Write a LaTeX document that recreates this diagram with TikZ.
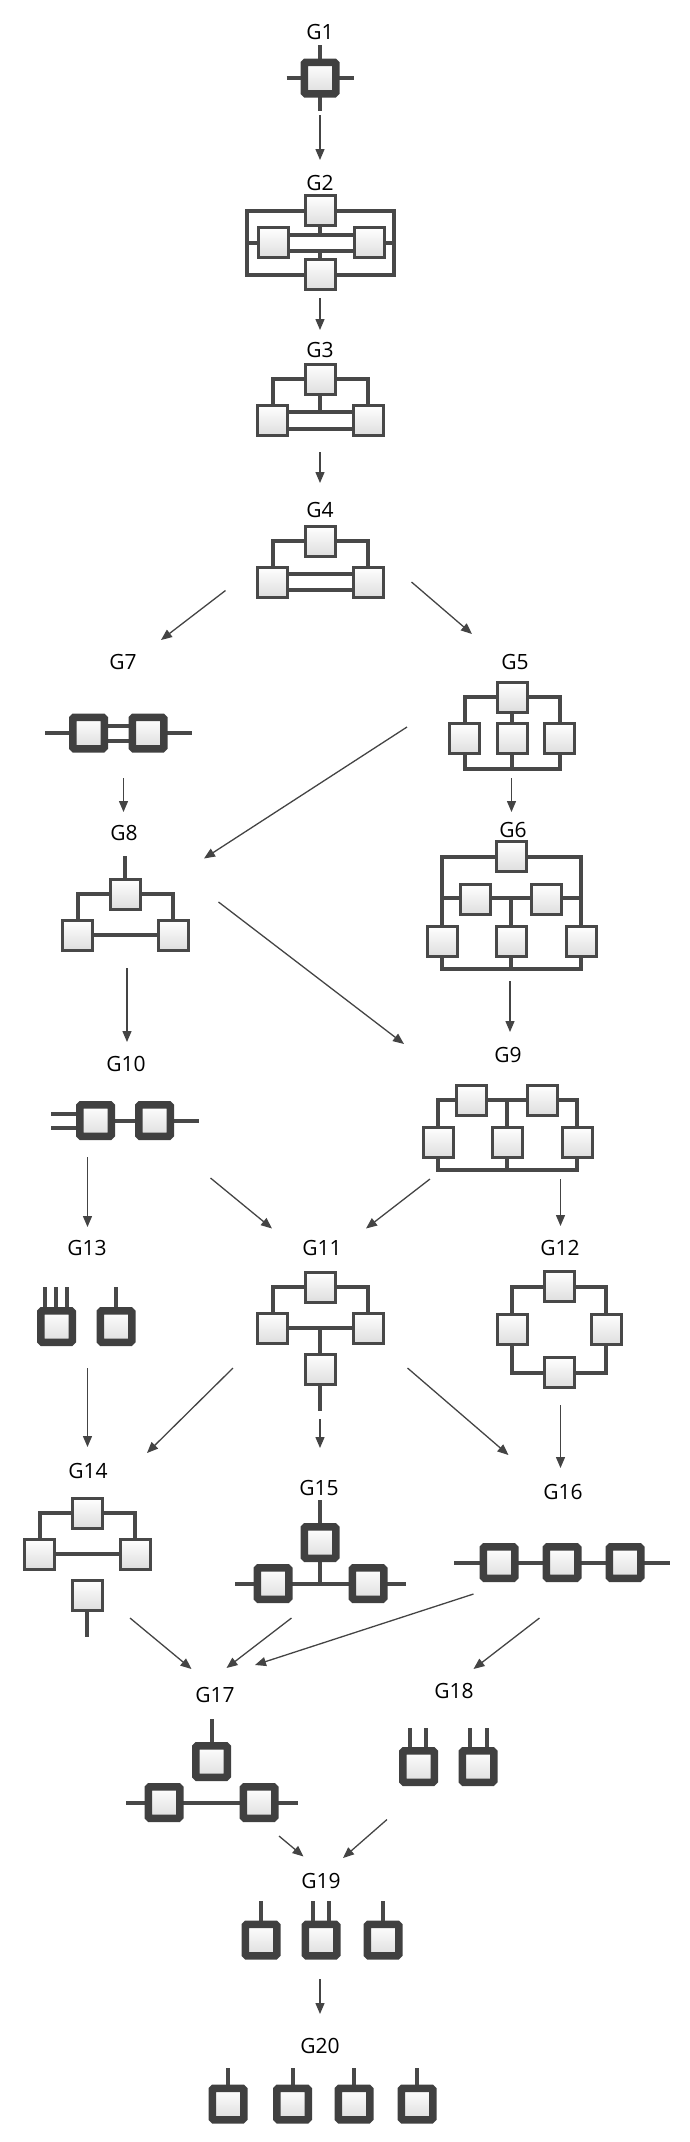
\documentclass[tikz,border=0pt]{standalone}
\usepackage{fontspec}
\setmainfont{Open Sans}
\usetikzlibrary{arrows.meta,positioning,calc}
\definecolor{Wire}{RGB}{72,72,72}
\definecolor{Heavy}{RGB}{64,64,64}
\definecolor{Fill}{RGB}{222,222,222}
\definecolor{Arrow}{RGB}{68,68,68}
\pgfdeclarelayer{wires}
\pgfsetlayers{wires,main}
\tikzset{graph layout/.style={%
    y=-1pt,%
    x=1pt,%
    every node/.style={%
        inner sep=0pt, font=\fontsize{21}{25}\selectfont
    },%
    box/.style={%
        draw=Wire, line width=3pt, minimum size=30pt, top color=white, bottom color=Fill
    },%
    heavy/.style={%
        draw=Heavy, line width=7.5pt, rounded corners=1.5pt, minimum size=31.5pt, top color=white, bottom color=Fill
    },%
    wire/.style={%
        draw=Wire, line width=4pt
    },%
    link/.style={%
        draw=Arrow, line width=1.3pt, -{Triangle[width=9pt,length=11pt]}
    }%
}}

\begin{document}
\begin{tikzpicture}[graph layout]
    \useasboundingbox (0,0) rectangle (689,2142);

    % G1
    \node (g1) at (320,32) {G1};
    \node[heavy] (g1a) at (320,78) {};
    \begin{pgfonlayer}{wires}
        \draw[wire] (286.5,78) -- (353.5,78) (320,45) -- (320,111);
    \end{pgfonlayer}

    % G2
    \node (g2) at (320,183) {G2};
    \node[box] (g2t) at (320,210.5) {};
    \node[box] (g2l) at (273,242.5) {};
    \node[box] (g2r) at (369,242.5) {};
    \node[box] (g2b) at (320,274.5) {};
    \begin{pgfonlayer}{wires}
        \draw[wire] (247,210.5) rectangle (394,274.5);
        \draw[wire] (247,242.5) -- (g2l.center) (g2r.center) -- (394,242.5);
        \draw[wire] (273,234.5) -- (369,234.5) (273,250.5) -- (369,250.5);
        \draw[wire] (g2t.center) -- (320,234.5) (g2b.center) -- (320,250.5);
    \end{pgfonlayer}

    % G3
    \node (g3) at (320,350) {G3};
    \node[box] (g3t) at (320,379) {};
    \node[box] (g3l) at (272.5,420.5) {};
    \node[box] (g3r) at (368,420.5) {};
    \begin{pgfonlayer}{wires}
        \draw[wire] (g3t.center) -| (g3l.center) (g3t.center) -| (g3r.center);
        \draw[wire] (g3t.center) -- (320,412);
        \draw[wire] (272.5,412) -- (368,412) (272.5,429) -- (368,429);
    \end{pgfonlayer}

    % G4
    \node (g4) at (320,510) {G4};
    \node[box] (g4t) at (320,541) {};
    \node[box] (g4l) at (272.5,582) {};
    \node[box] (g4r) at (368,582) {};
    \begin{pgfonlayer}{wires}
        \draw[wire] (g4t.center) -| (g4l.center) (g4t.center) -| (g4r.center);
        \draw[wire] (272.5,573.5) -- (368,573.5) (272.5,589.5) -- (368,589.5);
    \end{pgfonlayer}

    % G7
    \node (g7) at (123,662) {G7};
    \node[heavy] (g7a) at (88.5,733) {};
    \node[heavy] (g7b) at (148,733) {};
    \begin{pgfonlayer}{wires}
        \draw[wire] (45,733) -- (g7a.center) (g7b.center) -- (192,733);
        \draw[wire] (88.5,725.5) -- (148,725.5) (88.5,740.5) -- (148,740.5);
    \end{pgfonlayer}

    % G5
    \node (g5) at (515,662) {G5};
    \node[box] (g5t) at (512,697) {};
    \node[box] (g5a) at (464.5,738.5) {};
    \node[box] (g5b) at (512,738.5) {};
    \node[box] (g5c) at (559.5,738.5) {};
    \begin{pgfonlayer}{wires}
        \draw[wire] (g5t.center) -| (g5a.center) (g5t.center) -| (g5c.center) (g5t.center) -- (g5b.center);
        \draw[wire] (g5a.center) -- (464.5,768.5) -- (559.5,768.5) -- (g5c.center) (g5b.center) -- (512,768.5);
    \end{pgfonlayer}

    % G8
    \node (g8) at (124,833) {G8};
    \node[box] (g8t) at (125,894) {};
    \node[box] (g8l) at (77.5,935) {};
    \node[box] (g8r) at (173,935) {};
    \begin{pgfonlayer}{wires}
        \draw[wire] (g8t.center) -- (125,856);
        \draw[wire] (g8t.center) -| (g8l.center) (g8t.center) -| (g8r.center) (g8l.center) -- (g8r.center);
    \end{pgfonlayer}

    % G6
    \node (g6) at (513,830) {G6};
    \node[box] (g6t) at (511,856.5) {};
    \node[box] (g6a) at (475,899.5) {};
    \node[box] (g6b) at (546.5,899.5) {};
    \node[box] (g6c) at (442,941) {};
    \node[box] (g6d) at (511,941) {};
    \node[box] (g6e) at (581,941) {};
    \begin{pgfonlayer}{wires}
        \draw[wire] (g6t.center) -| (g6c.center) (g6t.center) -| (g6e.center);
        \draw[wire] (442,898) -- (581,898) (511,898) -- (g6d.center);
        \draw[wire] (g6c.center) -- (442,968.5) -- (581,968.5) -- (g6e.center) (g6d.center) -- (511,968.5);
    \end{pgfonlayer}

    % G10
    \node (g10) at (126,1064) {G10};
    \node[heavy] (g10a) at (95.5,1120.5) {};
    \node[heavy] (g10b) at (154.5,1120.5) {};
    \begin{pgfonlayer}{wires}
        \draw[wire] (51,1113.5) -- (95.5,1113.5) (51,1127.5) -- (95.5,1127.5);
        \draw[wire] (g10a.center) -- (g10b.center) -- (199,1120.5);
    \end{pgfonlayer}

    % G9
    \node (g9) at (508,1055) {G9};
    \node[box] (g9a) at (471,1100) {};
    \node[box] (g9b) at (542,1100) {};
    \node[box] (g9c) at (438,1142) {};
    \node[box] (g9d) at (507,1142) {};
    \node[box] (g9e) at (577,1142) {};
    \begin{pgfonlayer}{wires}
        \draw[wire] (g9c.center) -- (438,1100) -- (577,1100) -- (g9e.center) (507,1100) -- (g9d.center);
        \draw[wire] (g9c.center) -- (438,1169.5) -- (577,1169.5) -- (g9e.center) (g9d.center) -- (507,1169.5);
    \end{pgfonlayer}

    % G13
    \node (g13) at (87,1248) {G13};
    \node[heavy] (g13a) at (56.5,1326.5) {};
    \node[heavy] (g13b) at (116,1326.5) {};
    \begin{pgfonlayer}{wires}
        \foreach \x in {44.5,56,67}
            \draw[wire] (\x,1287) -- (\x,1326.5);
        \draw[wire] (116,1287) -- (g13b.center);
    \end{pgfonlayer}

    % G11
    \node (g11) at (322,1248) {G11};
    \node[box] (g11t) at (320,1287) {};
    \node[box] (g11l) at (272.5,1328) {};
    \node[box] (g11r) at (368,1328) {};
    \node[box] (g11b) at (320,1369) {};
    \begin{pgfonlayer}{wires}
        \draw[wire] (g11t.center) -| (g11l.center) (g11t.center) -| (g11r.center) (g11l.center) -- (g11r.center);
        \draw[wire] (320,1328) -- (g11b.center) -- (320,1411);
    \end{pgfonlayer}

    % G12
    \node (g12) at (560,1248) {G12};
    \node[box] (g12t) at (559,1286.5) {};
    \node[box] (g12l) at (512,1329) {};
    \node[box] (g12r) at (606,1329) {};
    \node[box] (g12b) at (559,1372.5) {};
    \begin{pgfonlayer}{wires}
        \draw[wire] (g12t.center) -| (g12l.center) (g12t.center) -| (g12r.center);
        \draw[wire] (g12b.center) -| (g12l.center) (g12b.center) -| (g12r.center);
    \end{pgfonlayer}

    % G14
    \node (g14) at (88,1471) {G14};
    \node[box] (g14t) at (87,1513) {};
    \node[box] (g14l) at (39.5,1554) {};
    \node[box] (g14r) at (135,1554) {};
    \node[box] (g14s) at (87,1595.5) {};
    \begin{pgfonlayer}{wires}
        \draw[wire] (g14t.center) -| (g14l.center) (g14t.center) -| (g14r.center) (g14l.center) -- (g14r.center);
        \draw[wire] (g14s.center) -- (87,1637);
    \end{pgfonlayer}

    % G15
    \node (g15) at (319,1488) {G15};
    \node[heavy] (g15t) at (320,1542.5) {};
    \node[heavy] (g15l) at (273,1583.5) {};
    \node[heavy] (g15r) at (368,1583.5) {};
    \begin{pgfonlayer}{wires}
        \draw[wire] (320,1500) -- (g15t.center) -- (320,1583.5);
        \draw[wire] (235,1583.5) -- (406,1583.5);
    \end{pgfonlayer}

    % G16
    \node (g16) at (563,1492) {G16};
    \foreach \i/\x in {a/499,b/562,c/625}
        \node[heavy] (g16\i) at (\x,1562.5) {};
    \begin{pgfonlayer}{wires}
        \draw[wire] (454,1562.5) -- (670,1562.5);
    \end{pgfonlayer}

    % G17
    \node (g17) at (215,1695) {G17};
    \node[heavy] (g17t) at (211.5,1761.5) {};
    \node[heavy] (g17l) at (164,1802.5) {};
    \node[heavy] (g17r) at (259,1802.5) {};
    \begin{pgfonlayer}{wires}
        \draw[wire] (211.5,1719) -- (g17t.center);
        \draw[wire] (126,1802.5) -- (298,1802.5);
    \end{pgfonlayer}

    % G18
    \node (g18) at (454,1691) {G18};
    \node[heavy] (g18a) at (418.5,1766.5) {};
    \node[heavy] (g18b) at (478,1766.5) {};
    \begin{pgfonlayer}{wires}
        \foreach \x in {410,426,470,487}
            \draw[wire] (\x,1728) -- (\x,1766.5);
    \end{pgfonlayer}

    % G19
    \node (g19) at (321,1881) {G19};
    \foreach \i/\x in {a/261,b/321,c/383}
        \node[heavy] (g19\i) at (\x,1940) {};
    \begin{pgfonlayer}{wires}
        \foreach \x in {261,313,329,383}
            \draw[wire] (\x,1901) -- (\x,1940);
    \end{pgfonlayer}

    % G20
    \node (g20) at (320,2046) {G20};
    \foreach \i/\x in {a/228,b/292.5,c/354,d/417} {
        \node[heavy] (g20\i) at (\x,2104) {};
        \begin{pgfonlayer}{wires}
            \draw[wire] (\x,2068) -- (g20\i.center);
        \end{pgfonlayer}
    }

    % arrows between the graphs
    \foreach \n/\sx/\sy/\ex/\ey in {%
        g1g2/320/115/320/160, g2g3/320/298/320/330, g3g4/320/452/320/483,
        g4g7/225.5/590.5/161/640, g4g5/411.5/582/472/634,
        g7g8/123.5/778/123.5/812, g5g8/407/727/204/858.5, g5g6/511.5/778/511.5/812,
        g8g10/127/968/127/1042, g8g9/218.5/902/404/1044, g6g9/510/981/510/1032,
        g9g11/430/1179/366/1228.5, g9g12/560.5/1179/560.5/1226,
        g10g13/87.5/1157/87.5/1227, g10g11/210.5/1178/272/1228.5,
        g13g14/87.5/1368/87.5/1447, g11g14/233/1368/147/1453,
        g11g15/320/1419/320/1448, g11g16/407.5/1368/508.5/1455,
        g12g16/560.5/1405/560.5/1468,
        g14g17/130/1618/191.5/1669, g15g17/291.5/1618/226.5/1668,
        g16g17/473.5/1594/255/1665, g16g18/539.5/1618/473.5/1669,
        g17g19/279/1836/303.5/1856.5, g18g19/387/1819.5/343/1858,
        g19g20/320/1979/320/2014} {
        \coordinate (\n-s) at (\sx,\sy);
        \coordinate (\n-e) at (\ex,\ey);
        \draw[link] (\n-s) -- (\n-e);
    }
\end{tikzpicture}
\end{document}
